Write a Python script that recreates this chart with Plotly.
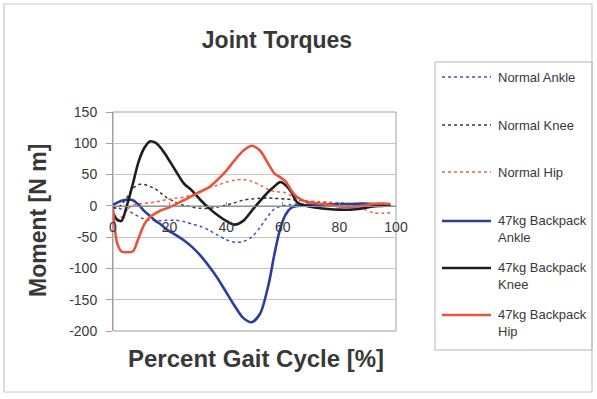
import plotly.graph_objects as go

# ---------------- data ----------------
gait_pct = [0, 1.5, 3, 5, 7, 9, 11, 13, 15, 17, 19, 22, 25, 28, 31, 34, 37, 40, 43,
            46, 49, 52, 55, 57, 59, 61, 63, 65, 68, 72, 76, 80, 84, 88, 92, 95, 98]

normal_ankle = [-3, -4, -5, -7, -12, -17, -21, -23, -23, -24, -23, -23, -25, -29, -33,
                -39, -47, -54, -58, -57, -50, -34, -15, -5, -1, 1, 2, 3, 3, 3,
                3, 3, 3.5, 3.5, 3, 3, 3]
normal_knee = [-3, -3, 2, 14, 28, 34, 34, 31, 27, 20, 13, 6, 1, -2, -4, -4, -2, 1, 5,
               9, 11, 12, 12.5, 12, 11.5, 11, 10, 9, 8, 6, 4, 3, 2, 1, 0, 0, 0]
normal_hip = [-4, -24, -18, -6, 1, 3, 4, 5, 6, 8, 10, 12, 14, 18, 24, 29, 33, 38, 41,
              42, 39, 33, 26, 23, 22, 21, 16, 11, 8, 7, 6, 5, 3.5, -4, -11, -12, -11]
backpack_ankle = [2, 5, 8, 10, 9, 2, -8, -16, -24, -30, -38, -46, -55, -66, -80, -97,
                  -116, -138, -160, -179, -186, -172, -125, -78, -38, -14, -3, 0, 1,
                  2, 2.5, 3, 3, 3.5, 3, 3, 2]
backpack_knee = [-12, -22, -24, 2, 35, 70, 92, 103, 101, 92, 79, 57, 36, 24, 9, -4,
                 -15, -24, -30, -24, -8, 8, 23, 31, 38, 33, 22, 6, 0, -3, -5, -6, -6,
                 -4, -1, 0, 1]
backpack_hip = [-5, -60, -73, -74, -73, -52, -30, -18, -12, -7, -4, 2, 9, 16, 23, 30,
                42, 56, 73, 88, 96, 88, 66, 52, 46, 39, 25, 14, 7, 4, 2, -1, -2, 0, 3,
                3.5, 3]

series_names = ["Normal Ankle", "Normal Knee", "Normal Hip",
                "47kg Backpack<br>Ankle", "47kg Backpack<br>Knee", "47kg Backpack<br>Hip"]
series_values = [normal_ankle, normal_knee, normal_hip,
                 backpack_ankle, backpack_knee, backpack_hip]

y_ticks = [-200, -150, -100, -50, 0, 50, 100, 150]
x_ticks = [0, 20, 40, 60, 80, 100]

# ---------------- styling ----------------
colors = ["#3F52C4", "#383838", "#E8604A", "#2E3C9E", "#1E1E1E", "#E8553A"]
dashes = ["3px,3px", "3px,3px", "3px,3px", "solid", "solid", "solid"]
widths = [1.5, 1.5, 1.5, 2.6, 2.6, 2.6]

FONT = "Liberation Sans, Arial, sans-serif"
TXT = "#383838"

W_PX, H_PX = 597, 399
L, R, T, B = 113, 396, 112, 331
PW, PH = R - L, B - T


def fx(px):
    return (px - L) / PW


def fy(py):
    return (B - py) / PH


fig = go.Figure()
for name, vals, c, d, w in zip(series_names, series_values, colors, dashes, widths):
    fig.add_trace(go.Scatter(x=gait_pct, y=vals, mode="lines", name=name.replace("<br>", " "),
                             line=dict(color=c, dash=d, width=w, shape="spline", smoothing=0.8),
                             showlegend=False))

ymin, ymax = -200, 150
shapes = [
    # outer chart border
    dict(type="rect", xref="paper", yref="paper", x0=fx(4), x1=fx(592), y0=fy(392), y1=fy(4),
         line=dict(color="#C8C8C8", width=1.2), layer="below"),
    # plot area border
    dict(type="rect", xref="paper", yref="paper", x0=0, x1=1, y0=0, y1=1,
         line=dict(color="#A0A0A0", width=1), layer="below"),
    # legend box
    dict(type="rect", xref="paper", yref="paper", x0=fx(435), x1=fx(592), y0=fy(350), y1=fy(62),
         line=dict(color="#B4B4B4", width=1), layer="below"),
]

annotations = []
leg_y = [77, 125, 172, 229, 276, 323]
for name, c, d, w, yy in zip(series_names, colors, dashes, widths, leg_y):
    line_y = yy if "<br>" not in name else yy - 8
    shapes.append(dict(type="line", xref="paper", yref="paper", x0=fx(442), x1=fx(491),
                       y0=fy(line_y), y1=fy(line_y), line=dict(color=c, dash=d, width=w)))
    annotations.append(dict(xref="paper", yref="paper", x=fx(496), y=fy(yy), text=name,
                            showarrow=False, xanchor="left", yanchor="middle", align="left",
                            font=dict(family=FONT, size=13, color=TXT)))

annotations.append(dict(xref="paper", yref="paper", x=fx(256), y=fy(358),
                        text="Percent Gait Cycle [%]", showarrow=False,
                        xanchor="center", yanchor="middle",
                        font=dict(family=FONT, size=24, color=TXT, weight="bold")))
annotations.append(dict(xref="paper", yref="paper", x=fx(38), y=fy(221),
                        text="Moment [N m]", showarrow=False, textangle=-90,
                        xanchor="center", yanchor="middle",
                        font=dict(family=FONT, size=23, color=TXT, weight="bold")))

fig.update_layout(
    width=W_PX, height=H_PX,
    margin=dict(l=L, r=W_PX - R, t=T, b=H_PX - B, pad=0),
    paper_bgcolor="white", plot_bgcolor="white",
    title=dict(text="Joint Torques", x=fx(277), xref="paper", xanchor="center",
               y=1 - 40 / H_PX, yref="container", yanchor="middle",
               font=dict(family=FONT, size=23, color=TXT, weight="bold")),
    xaxis=dict(range=[0, 100], tickvals=x_ticks, ticktext=[str(v) for v in x_ticks],
               showgrid=False, zeroline=False, showline=True, linecolor="#909090",
               linewidth=1, ticks="inside", ticklen=4, tickcolor="#909090",
               anchor="free", position=(0 - ymin) / (ymax - ymin),
               ticklabelstandoff=8,
               tickfont=dict(family=FONT, size=14, color=TXT)),
    yaxis=dict(range=[ymin, ymax], tickvals=y_ticks, ticktext=[str(v) for v in y_ticks],
               showgrid=True, gridcolor="#C4C4C4", gridwidth=1, zeroline=False,
               showline=True, linecolor="#A0A0A0", ticks="outside", ticklen=6,
               tickcolor="#A0A0A0", ticklabelstandoff=6,
               tickfont=dict(family=FONT, size=14, color=TXT)),
    shapes=shapes,
    annotations=annotations,
    showlegend=False,
)

fig.write_html("out.html")
